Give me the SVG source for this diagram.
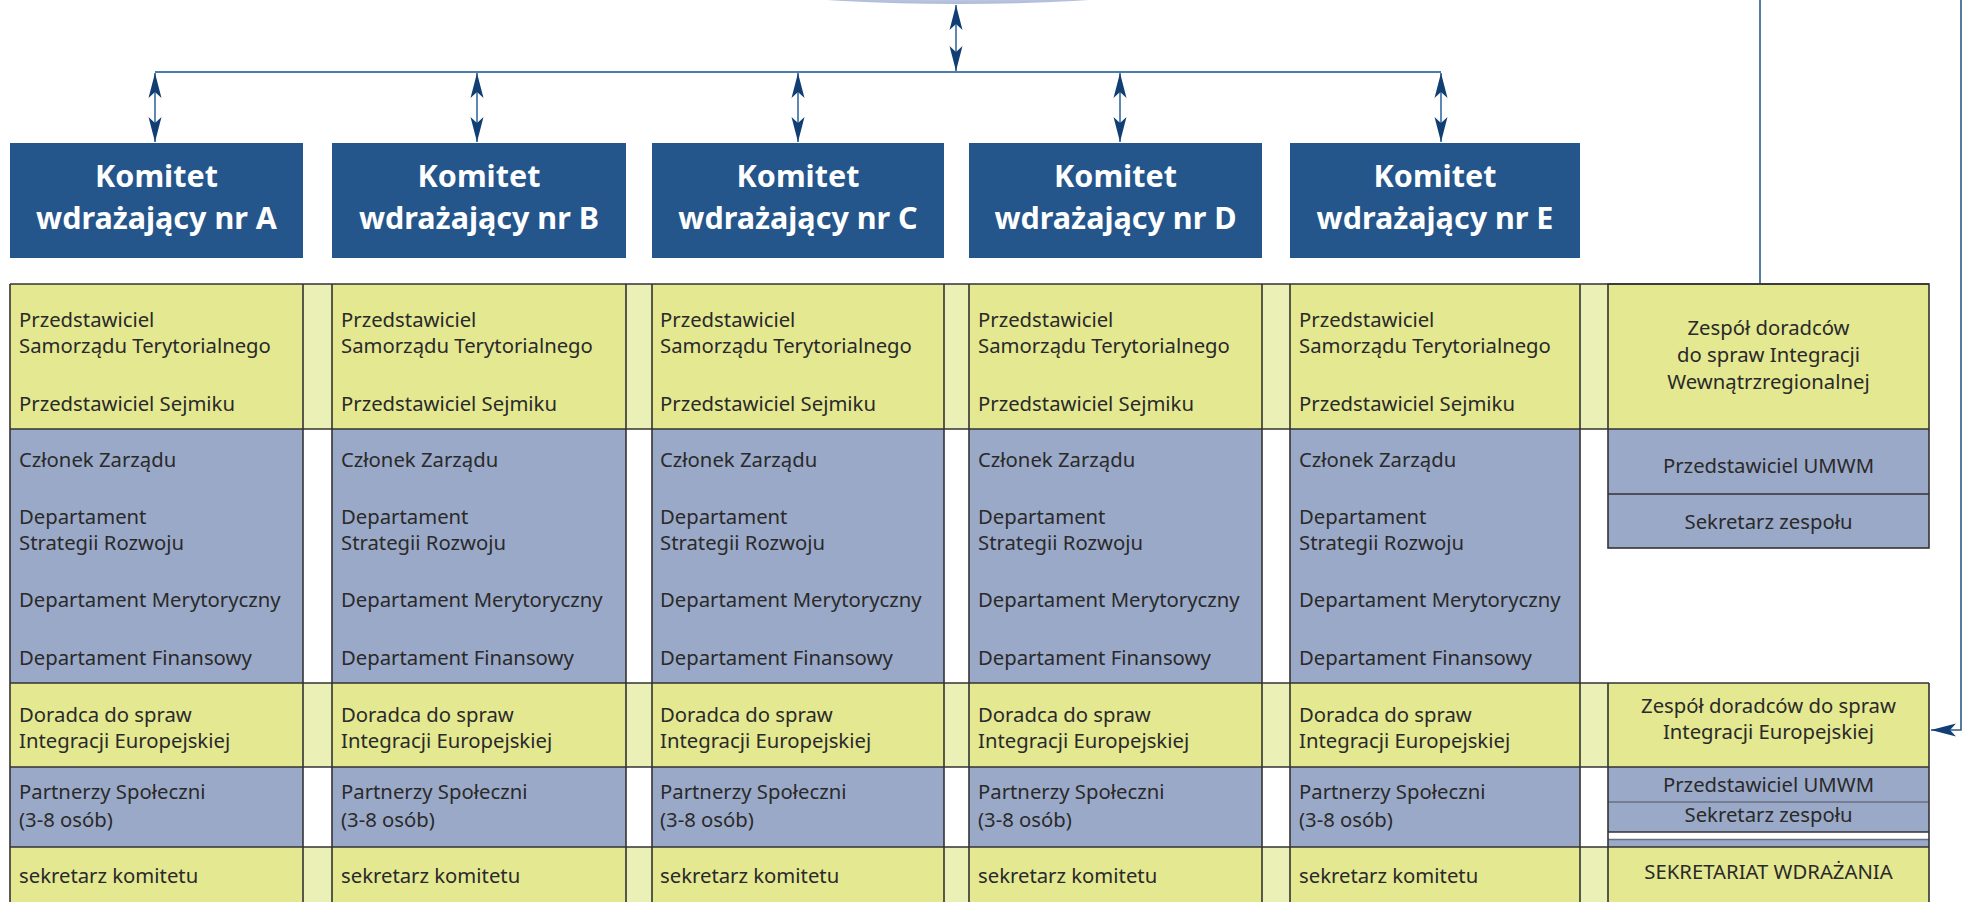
<svg xmlns="http://www.w3.org/2000/svg" width="1966" height="902" viewBox="0 0 1966 902">
<defs>
<style>
.hdr{fill:#24568c}
.ht{font-family:"Noto Sans","Open Sans",sans-serif;font-weight:bold;font-size:30.5px;fill:#ffffff;text-anchor:middle}
.t{font-family:"Noto Sans","Open Sans",sans-serif;font-size:20.3px;fill:#2a2a2a}
.tc{font-family:"Noto Sans","Open Sans",sans-serif;font-size:20.3px;fill:#2a2a2a;text-anchor:middle}
.y{fill:#e3e891}
.b{fill:#9aa9c8}
.gy{fill:#ebf0b6}
.bd{fill:none;stroke:#333333;stroke-width:1.6}
.conn{fill:none;stroke:#4d7cac;stroke-width:1.8}
.conn2{fill:none;stroke:#2d5a8a;stroke-width:1.6}
</style>
<marker id="ah" viewBox="-27 -8 28 16" refX="0" refY="0" markerWidth="28" markerHeight="16" markerUnits="userSpaceOnUse" orient="auto-start-reverse">
<path d="M0,0 L-25,-6.5 L-19,0 L-25,6.5 Z" fill="#123f73"/>
</marker>
<radialGradient id="eg" cx="0.5" cy="0.3" r="0.7">
<stop offset="0" stop-color="#f4f6fb"/>
<stop offset="0.8" stop-color="#d6ddec"/>
<stop offset="1" stop-color="#adbad8"/>
</radialGradient>
</defs>
<rect width="1966" height="902" fill="#ffffff"/>

<g id="top-node">
<ellipse cx="958" cy="-36" rx="300" ry="40" fill="url(#eg)"/>
</g>

<g id="connectors">
<line class="conn" x1="155" y1="72" x2="1441" y2="72"/>
<line class="conn" x1="956" y1="5" x2="956" y2="71" marker-start="url(#ah)" marker-end="url(#ah)"/>
<line class="conn" x1="155" y1="73" x2="155" y2="142" marker-start="url(#ah)" marker-end="url(#ah)"/>
<line class="conn" x1="477" y1="73" x2="477" y2="142" marker-start="url(#ah)" marker-end="url(#ah)"/>
<line class="conn" x1="798" y1="73" x2="798" y2="142" marker-start="url(#ah)" marker-end="url(#ah)"/>
<line class="conn" x1="1120" y1="73" x2="1120" y2="142" marker-start="url(#ah)" marker-end="url(#ah)"/>
<line class="conn" x1="1441" y1="73" x2="1441" y2="142" marker-start="url(#ah)" marker-end="url(#ah)"/>
<line class="conn2" x1="1760" y1="0" x2="1760" y2="284"/>
<polyline class="conn2" points="1961,0 1961,730 1931,730" marker-end="url(#ah)"/>
</g>

<g id="kom-A"><rect class="hdr" x="10" y="143" width="293" height="115"/><text class="ht" x="156.5" y="187">Komitet</text><text class="ht" x="156.5" y="229">wdrażający nr A</text></g>
<g id="kom-B"><rect class="hdr" x="332" y="143" width="294" height="115"/><text class="ht" x="479" y="187">Komitet</text><text class="ht" x="479" y="229">wdrażający nr B</text></g>
<g id="kom-C"><rect class="hdr" x="652" y="143" width="292" height="115"/><text class="ht" x="798" y="187">Komitet</text><text class="ht" x="798" y="229">wdrażający nr C</text></g>
<g id="kom-D"><rect class="hdr" x="969" y="143" width="293" height="115"/><text class="ht" x="1115.5" y="187">Komitet</text><text class="ht" x="1115.5" y="229">wdrażający nr D</text></g>
<g id="kom-E"><rect class="hdr" x="1290" y="143" width="290" height="115"/><text class="ht" x="1435" y="187">Komitet</text><text class="ht" x="1435" y="229">wdrażający nr E</text></g>

<g id="gaps">
<rect class="gy" x="303" y="284" width="29" height="145"/><rect class="gy" x="303" y="683" width="29" height="84"/><rect class="gy" x="303" y="847" width="29" height="60"/>
<rect class="gy" x="626" y="284" width="26" height="145"/><rect class="gy" x="626" y="683" width="26" height="84"/><rect class="gy" x="626" y="847" width="26" height="60"/>
<rect class="gy" x="944" y="284" width="25" height="145"/><rect class="gy" x="944" y="683" width="25" height="84"/><rect class="gy" x="944" y="847" width="25" height="60"/>
<rect class="gy" x="1262" y="284" width="28" height="145"/><rect class="gy" x="1262" y="683" width="28" height="84"/><rect class="gy" x="1262" y="847" width="28" height="60"/>
<rect class="gy" x="1580" y="284" width="28" height="145"/><rect class="gy" x="1580" y="683" width="28" height="84"/><rect class="gy" x="1580" y="847" width="28" height="60"/>
</g>

<g id="col-A">
<rect class="y" x="10" y="284" width="293" height="145"/><rect class="b" x="10" y="429" width="293" height="254"/><rect class="y" x="10" y="683" width="293" height="84"/><rect class="b" x="10" y="767" width="293" height="80"/><rect class="y" x="10" y="847" width="293" height="60"/>
<text class="t" x="19" y="327">Przedstawiciel</text><text class="t" x="19" y="353">Samorządu Terytorialnego</text><text class="t" x="19" y="411">Przedstawiciel Sejmiku</text>
<text class="t" x="19" y="467">Członek Zarządu</text><text class="t" x="19" y="524">Departament</text><text class="t" x="19" y="550">Strategii Rozwoju</text><text class="t" x="19" y="607">Departament Merytoryczny</text><text class="t" x="19" y="665">Departament Finansowy</text>
<text class="t" x="19" y="722">Doradca do spraw</text><text class="t" x="19" y="748">Integracji Europejskiej</text>
<text class="t" x="19" y="799">Partnerzy Społeczni</text><text class="t" x="19" y="827">(3-8 osób)</text>
<text class="t" x="19" y="883">sekretarz komitetu</text>
</g>
<g id="col-B">
<rect class="y" x="332" y="284" width="294" height="145"/><rect class="b" x="332" y="429" width="294" height="254"/><rect class="y" x="332" y="683" width="294" height="84"/><rect class="b" x="332" y="767" width="294" height="80"/><rect class="y" x="332" y="847" width="294" height="60"/>
<text class="t" x="341" y="327">Przedstawiciel</text><text class="t" x="341" y="353">Samorządu Terytorialnego</text><text class="t" x="341" y="411">Przedstawiciel Sejmiku</text>
<text class="t" x="341" y="467">Członek Zarządu</text><text class="t" x="341" y="524">Departament</text><text class="t" x="341" y="550">Strategii Rozwoju</text><text class="t" x="341" y="607">Departament Merytoryczny</text><text class="t" x="341" y="665">Departament Finansowy</text>
<text class="t" x="341" y="722">Doradca do spraw</text><text class="t" x="341" y="748">Integracji Europejskiej</text>
<text class="t" x="341" y="799">Partnerzy Społeczni</text><text class="t" x="341" y="827">(3-8 osób)</text>
<text class="t" x="341" y="883">sekretarz komitetu</text>
</g>
<g id="col-C">
<rect class="y" x="652" y="284" width="292" height="145"/><rect class="b" x="652" y="429" width="292" height="254"/><rect class="y" x="652" y="683" width="292" height="84"/><rect class="b" x="652" y="767" width="292" height="80"/><rect class="y" x="652" y="847" width="292" height="60"/>
<text class="t" x="660" y="327">Przedstawiciel</text><text class="t" x="660" y="353">Samorządu Terytorialnego</text><text class="t" x="660" y="411">Przedstawiciel Sejmiku</text>
<text class="t" x="660" y="467">Członek Zarządu</text><text class="t" x="660" y="524">Departament</text><text class="t" x="660" y="550">Strategii Rozwoju</text><text class="t" x="660" y="607">Departament Merytoryczny</text><text class="t" x="660" y="665">Departament Finansowy</text>
<text class="t" x="660" y="722">Doradca do spraw</text><text class="t" x="660" y="748">Integracji Europejskiej</text>
<text class="t" x="660" y="799">Partnerzy Społeczni</text><text class="t" x="660" y="827">(3-8 osób)</text>
<text class="t" x="660" y="883">sekretarz komitetu</text>
</g>
<g id="col-D">
<rect class="y" x="969" y="284" width="293" height="145"/><rect class="b" x="969" y="429" width="293" height="254"/><rect class="y" x="969" y="683" width="293" height="84"/><rect class="b" x="969" y="767" width="293" height="80"/><rect class="y" x="969" y="847" width="293" height="60"/>
<text class="t" x="978" y="327">Przedstawiciel</text><text class="t" x="978" y="353">Samorządu Terytorialnego</text><text class="t" x="978" y="411">Przedstawiciel Sejmiku</text>
<text class="t" x="978" y="467">Członek Zarządu</text><text class="t" x="978" y="524">Departament</text><text class="t" x="978" y="550">Strategii Rozwoju</text><text class="t" x="978" y="607">Departament Merytoryczny</text><text class="t" x="978" y="665">Departament Finansowy</text>
<text class="t" x="978" y="722">Doradca do spraw</text><text class="t" x="978" y="748">Integracji Europejskiej</text>
<text class="t" x="978" y="799">Partnerzy Społeczni</text><text class="t" x="978" y="827">(3-8 osób)</text>
<text class="t" x="978" y="883">sekretarz komitetu</text>
</g>
<g id="col-E">
<rect class="y" x="1290" y="284" width="290" height="145"/><rect class="b" x="1290" y="429" width="290" height="254"/><rect class="y" x="1290" y="683" width="290" height="84"/><rect class="b" x="1290" y="767" width="290" height="80"/><rect class="y" x="1290" y="847" width="290" height="60"/>
<text class="t" x="1299" y="327">Przedstawiciel</text><text class="t" x="1299" y="353">Samorządu Terytorialnego</text><text class="t" x="1299" y="411">Przedstawiciel Sejmiku</text>
<text class="t" x="1299" y="467">Członek Zarządu</text><text class="t" x="1299" y="524">Departament</text><text class="t" x="1299" y="550">Strategii Rozwoju</text><text class="t" x="1299" y="607">Departament Merytoryczny</text><text class="t" x="1299" y="665">Departament Finansowy</text>
<text class="t" x="1299" y="722">Doradca do spraw</text><text class="t" x="1299" y="748">Integracji Europejskiej</text>
<text class="t" x="1299" y="799">Partnerzy Społeczni</text><text class="t" x="1299" y="827">(3-8 osób)</text>
<text class="t" x="1299" y="883">sekretarz komitetu</text>
</g>

<g id="zespol-wewn">
<rect class="y" x="1608" y="284" width="321" height="145"/><rect class="b" x="1608" y="429" width="321" height="65"/><rect class="b" x="1608" y="494" width="321" height="54"/>
<text class="tc" x="1768.5" y="335">Zespół doradców</text><text class="tc" x="1768.5" y="362">do spraw Integracji</text><text class="tc" x="1768.5" y="389">Wewnątrzregionalnej</text>
<text class="tc" x="1768.5" y="473">Przedstawiciel UMWM</text>
<text class="tc" x="1768.5" y="529">Sekretarz zespołu</text>
<rect class="bd" x="1608" y="284" width="321" height="264"/>
<line class="bd" x1="1608" y1="494" x2="1929" y2="494"/>
</g>

<g id="zespol-eu">
<rect class="y" x="1608" y="683" width="321" height="84"/><rect class="b" x="1608" y="767" width="321" height="35"/><rect class="b" x="1608" y="802" width="321" height="30"/><rect class="b" x="1608" y="839" width="321" height="8"/>
<text class="tc" x="1768.5" y="713">Zespół doradców do spraw</text><text class="tc" x="1768.5" y="739">Integracji Europejskiej</text>
<text class="tc" x="1768.5" y="792">Przedstawiciel UMWM</text>
<text class="tc" x="1768.5" y="822">Sekretarz zespołu</text>
<line x1="1608" y1="802" x2="1929" y2="802" stroke="#6a6f80" stroke-width="1.6"/>
<line x1="1608" y1="839.5" x2="1929" y2="839.5" stroke="#6a6f80" stroke-width="1.6"/>
<line class="bd" x1="1608" y1="832" x2="1929" y2="832"/>
</g>
<g id="sekretariat">
<rect class="y" x="1608" y="847" width="321" height="60"/>
<text class="tc" x="1768.5" y="879">SEKRETARIAT WDRAŻANIA</text>
</g>

<g id="grid">
<line class="bd" x1="10" y1="284" x2="1929" y2="284"/>
<line class="bd" x1="10" y1="429" x2="1929" y2="429"/>
<line class="bd" x1="10" y1="683" x2="1929" y2="683"/>
<line class="bd" x1="10" y1="767" x2="1929" y2="767"/>
<line class="bd" x1="10" y1="847" x2="1929" y2="847"/>
<line class="bd" x1="10" y1="284" x2="10" y2="910"/><line class="bd" x1="303" y1="284" x2="303" y2="910"/>
<line class="bd" x1="332" y1="284" x2="332" y2="910"/><line class="bd" x1="626" y1="284" x2="626" y2="910"/>
<line class="bd" x1="652" y1="284" x2="652" y2="910"/><line class="bd" x1="944" y1="284" x2="944" y2="910"/>
<line class="bd" x1="969" y1="284" x2="969" y2="910"/><line class="bd" x1="1262" y1="284" x2="1262" y2="910"/>
<line class="bd" x1="1290" y1="284" x2="1290" y2="910"/><line class="bd" x1="1580" y1="284" x2="1580" y2="910"/>
<line class="bd" x1="1608" y1="683" x2="1608" y2="910"/><line class="bd" x1="1929" y1="683" x2="1929" y2="910"/>
</g>
</svg>
